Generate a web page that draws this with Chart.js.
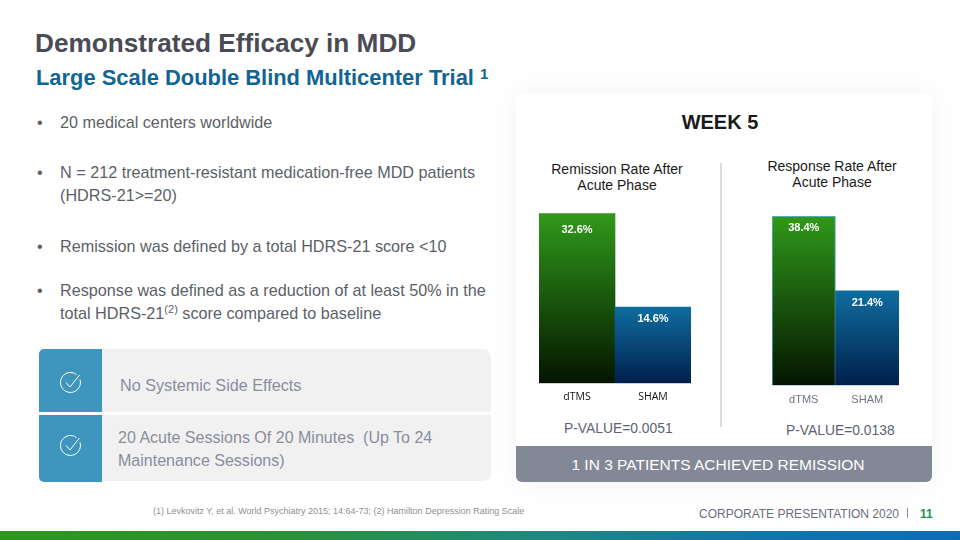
<!DOCTYPE html>
<html>
<head>
<meta charset="utf-8">
<script src="https://cdn.jsdelivr.net/npm/chart.js@4"></script>
<style>
html,body{margin:0;padding:0;background:#fff;}
#page{position:relative;width:960px;height:540px;overflow:hidden;font-family:"Liberation Sans",Arial,sans-serif;background:#fff;}
.t{position:absolute;white-space:nowrap;}
.body{font-size:16.2px;color:#5c5f67;line-height:23px;}
.chartTitle{font-size:14px;line-height:16px;color:#1a1a1a;text-align:center;}
.pval{font-size:13.85px;color:#5d6270;}
.box{position:absolute;}
canvas{position:absolute;}
sup{font-size:68%;line-height:0;}
</style>
</head>
<body>
<div id="page">
  <div class="t" style="left:35px;top:28px;font-size:26.2px;font-weight:bold;color:#494b55;">Demonstrated Efficacy in MDD</div>
  <div class="t" style="left:36px;top:65px;font-size:21.9px;font-weight:bold;color:#0f6594;">Large Scale Double Blind Multicenter Trial <sup style="font-weight:bold;font-size:15px;position:relative;top:2px;">1</sup></div>

  <div class="t body" style="left:37px;top:111px;">•</div>
  <div class="t body" style="left:60px;top:111px;">20 medical centers worldwide</div>
  <div class="t body" style="left:37px;top:161px;">•</div>
  <div class="t body" style="left:60px;top:161px;">N = 212 treatment-resistant medication-free MDD patients<br>(HDRS-21&gt;=20)</div>
  <div class="t body" style="left:37px;top:235px;">•</div>
  <div class="t body" style="left:60px;top:235px;">Remission was defined by a total HDRS-21 score &lt;10</div>
  <div class="t body" style="left:37px;top:279px;">•</div>
  <div class="t body" style="left:60px;top:279px;">Response was defined as a reduction of at least 50% in the<br>total HDRS-21<sup>(2)</sup> score compared to baseline</div>

  <div class="box" style="left:39px;top:349px;width:452px;height:63px;background:#f1f1f1;border-radius:6px 8px 0 0;"></div>
  <div class="box" style="left:39px;top:349px;width:63px;height:63px;background:#3e95bd;border-radius:5px 0 0 0;"></div>
  <div class="box" style="left:39px;top:415px;width:452px;height:66px;background:#f1f1f1;border-radius:0 0 8px 6px;"></div>
  <div class="box" style="left:39px;top:415px;width:63px;height:67px;background:#3e95bd;border-radius:0 0 0 5px;"></div>
  <svg class="box" style="left:59px;top:371px;" width="24" height="24" viewBox="0 0 24 24" fill="none" stroke="#fff" stroke-width="1">
    <path d="M21 8.5A10 10 0 1 1 17.5 3.5"/><path d="M7 11.5l4 4.5 9.5-12"/>
  </svg>
  <svg class="box" style="left:59px;top:434px;" width="24" height="24" viewBox="0 0 24 24" fill="none" stroke="#fff" stroke-width="1">
    <path d="M21 8.5A10 10 0 1 1 17.5 3.5"/><path d="M7 11.5l4 4.5 9.5-12"/>
  </svg>
  <div class="t" style="left:120px;top:376px;font-size:16.2px;color:#8a8d9c;">No Systemic Side Effects</div>
  <div class="t" style="left:118px;top:426px;font-size:16.05px;line-height:23px;color:#8a8d9c;">20 Acute Sessions Of 20 Minutes&nbsp; (Up To 24<br>Maintenance Sessions)</div>

  <div class="t" style="left:153px;top:506px;font-size:9px;color:#8f8f8f;">(1) Levkovitz Y, et al. World Psychiatry 2015; 14:64-73; (2) Hamilton Depression Rating Scale</div>

  <div class="box" style="left:516px;top:93px;width:416px;height:389px;background:#fff;border-radius:6px;box-shadow:0 0 30px rgba(0,0,0,0.06);"></div>
  <div class="t" style="left:516px;width:408px;top:111px;text-align:center;font-size:20px;font-weight:bold;color:#1a1a1a;">WEEK 5</div>
  <div class="box" style="left:720px;top:163px;width:2px;height:264px;background:#dcdcdc;"></div>
  <div class="t chartTitle" style="left:517px;width:200px;top:161px;">Remission Rate After<br>Acute Phase</div>
  <div class="t chartTitle" style="left:732px;width:200px;top:158px;">Response Rate After<br>Acute Phase</div>

  <canvas id="chartLeft" style="left:539px;top:201px;" width="152" height="214"></canvas>
  <canvas id="chartRight" style="left:772px;top:209px;" width="127" height="208"></canvas>

  <div class="t pval" style="left:564px;top:420px;">P-VALUE=0.0051</div>
  <div class="t pval" style="left:786px;top:422px;">P-VALUE=0.0138</div>

  <div class="box" style="left:516px;top:446px;width:416px;height:36px;background:#838897;border-radius:0 0 6px 6px;"></div>
  <div class="t" style="left:516px;width:404px;top:456px;text-align:center;font-size:15.5px;color:#fff;">1 IN 3 PATIENTS ACHIEVED REMISSION</div>

  <div class="t" style="left:699px;top:507px;font-size:12px;color:#6a6d7a;">CORPORATE PRESENTATION 2020</div>
  <div class="box" style="left:907px;top:508px;width:1px;height:10px;background:#8c86a8;"></div>
  <div class="t" style="left:920px;top:507px;font-size:12px;font-weight:bold;color:#15924f;">11</div>

  <div class="box" style="left:0;top:531px;width:960px;height:9px;background:linear-gradient(90deg,#2e971c 0%,#2a9238 30%,#1e8a7e 55%,#0f76ad 80%,#0b6db8 100%);"></div>
</div>
<script>
const categories=['dTMS','SHAM'];
const remissionValues=[32.6,14.6];
const responseValues=[38.4,21.4];
const remissionMax=35;
const responseMax=40;
const gradients=[['#30991a','#041500'],['#0f6d9f','#00204c']];

Chart.defaults.animation=false;

// white % label just inside the top of each bar, offset comes per chart
const barLabels={
  id:'barLabels',
  afterDatasetsDraw(chart,args,opts){
    const ctx=chart.ctx;
    const meta=chart.getDatasetMeta(0);
    ctx.save();
    ctx.font='bold 11px "Liberation Sans", Arial, sans-serif';
    ctx.fillStyle='#fff';
    ctx.textAlign='center';
    ctx.textBaseline='middle';
    meta.data.forEach((bar,i)=>{
      ctx.fillText(chart.data.datasets[0].data[i].toFixed(1)+'%',bar.x,bar.y+opts.offsets[i]);
    });
    ctx.restore();
  }
};

function barFill(c){
  const chart=c.chart;
  const pair=gradients[c.dataIndex];
  if(!chart.chartArea) return pair[0];
  const y=chart.scales.y;
  const g=chart.ctx.createLinearGradient(0,y.getPixelForValue(c.raw),0,y.getPixelForValue(0));
  g.addColorStop(0,pair[0]);
  g.addColorStop(1,pair[1]);
  return g;
}

function drawBars(id,values,maxVal,axisH,tickFont,tickColor,border,offsets){
  new Chart(document.getElementById(id).getContext('2d'),{
    type:'bar',
    data:{labels:categories,datasets:[{
      data:values,
      backgroundColor:barFill,
      borderColor:border,
      borderWidth:border?[1,0]:0,
      barPercentage:1,
      categoryPercentage:1
    }]},
    options:{
      responsive:false,
      layout:{padding:0},
      plugins:{legend:{display:false},tooltip:{enabled:false},barLabels:{offsets:offsets}},
      scales:{
        x:{
          grid:{display:false},
          border:{display:true,color:'#c9d0d8'},
          ticks:{font:tickFont,color:tickColor,padding:0,maxRotation:0},
          afterFit(s){s.height=axisH;}
        },
        y:{display:false,min:0,max:maxVal}
      }
    },
    plugins:[barLabels]
  });
}

drawBars('chartLeft',remissionValues,remissionMax,32,{family:'"Open Sans"',size:10.5},'#111',null,[16,11.5]);
drawBars('chartRight',responseValues,responseMax,32,{family:'"Liberation Sans"',size:11},'#6f7585','#63b3dc',[12,12]);
</script>
</body>
</html>
